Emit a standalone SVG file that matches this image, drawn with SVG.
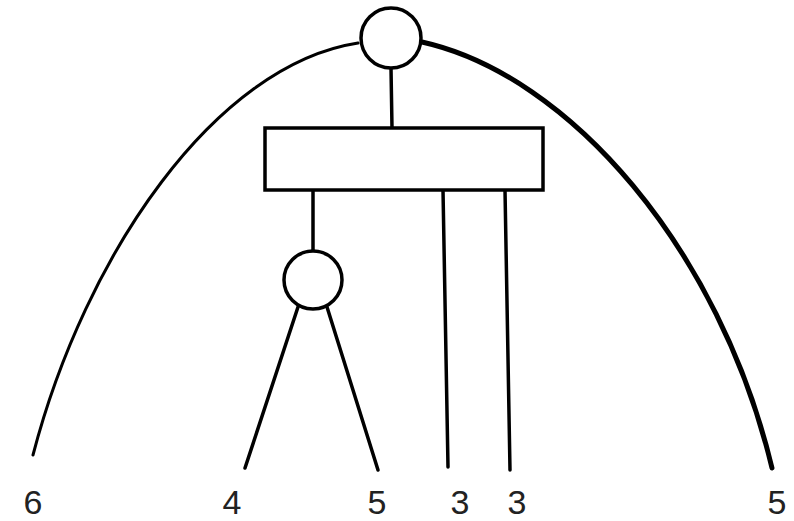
<svg xmlns="http://www.w3.org/2000/svg" width="794" height="521" viewBox="0 0 794 521">
<style>
.s{fill:none;stroke:#000;stroke-width:3.5;stroke-linecap:round;stroke-linejoin:round}
.n{fill:#fff;stroke:#000;stroke-width:3.5}
.t{font-family:"Liberation Sans",Arial,sans-serif;font-size:34px;fill:#222;text-anchor:middle}
</style>
<rect width="794" height="521" fill="#fff"/>
<g id="connectors">
<path class="s" style="stroke-width:3" d="M33,455 C85,255 215,65 358,43"/>
<path class="s" style="stroke-width:5" d="M422,42 C570,75 720,250 772,468"/>
<line class="s" x1="391" y1="68" x2="392" y2="128"/>
<line class="s" x1="313" y1="190" x2="313" y2="251"/>
<line class="s" x1="298" y1="307" x2="245" y2="468"/>
<line class="s" x1="327" y1="307" x2="378" y2="470"/>
<line class="s" x1="443" y1="190" x2="448" y2="467"/>
<line class="s" x1="505" y1="190" x2="510" y2="470"/>
</g>
<g id="root"><circle class="n" cx="391" cy="38" r="30"/></g>
<g id="box"><rect class="n" x="265" y="128" width="278" height="62"/></g>
<g id="sub"><circle class="n" cx="313" cy="280" r="29"/></g>
<g id="labels">
<text class="t" x="33" y="514">6</text>
<text class="t" x="232" y="514">4</text>
<text class="t" x="377" y="514">5</text>
<text class="t" x="460" y="514">3</text>
<text class="t" x="517" y="514">3</text>
<text class="t" x="777" y="514">5</text>
</g>
</svg>
